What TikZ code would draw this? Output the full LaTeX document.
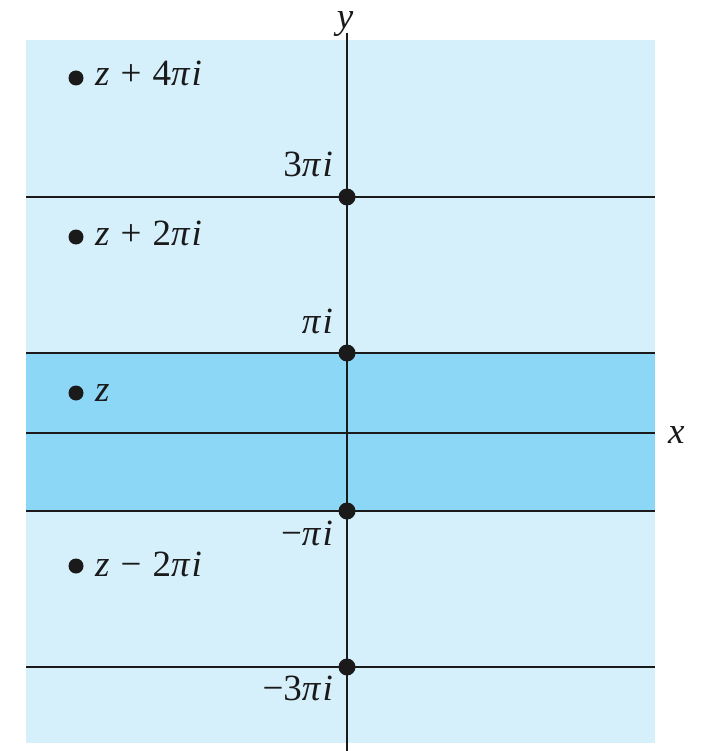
\documentclass[tikz,border=0pt]{standalone}
\usepackage{fontspec}
\newfontfamily\tms{Liberation Serif}
\newcommand\mi[1]{{\itshape #1}}
\newcommand\pii{{\itshape π\kern2pt i}}
\newcommand\opsp{\hspace{0.3em}}
\definecolor{lightband}{HTML}{D5EFFB}
\definecolor{darkband}{HTML}{8CD6F6}
\definecolor{ink}{HTML}{1A1A1A}
\begin{document}
\begin{tikzpicture}[x=1pt,y=-1pt,
  axisline/.style={draw=ink,line width=1.9pt},
  bigdot/.style={circle,fill=ink,inner sep=0pt,minimum size=17pt},
  smalldot/.style={circle,fill=ink,inner sep=0pt,minimum size=15pt},
  lbl/.style={font=\tms\fontsize{37}{40}\selectfont,inner sep=0pt,text=ink}]
\useasboundingbox (0,0) rectangle (703,751);
% bands
\fill[lightband] (26,40) rectangle (655,743);
\fill[darkband] (26,353) rectangle (655,511);
% coordinates
\coordinate (L3) at (26,197); \coordinate (R3) at (655,197);
\coordinate (L1) at (26,353); \coordinate (R1) at (655,353);
\coordinate (L0) at (26,433); \coordinate (R0) at (655,433);
\coordinate (Lm1) at (26,511); \coordinate (Rm1) at (655,511);
\coordinate (Lm3) at (26,667); \coordinate (Rm3) at (655,667);
\coordinate (ytop) at (347,33); \coordinate (ybot) at (347,751);
% lines
\draw[axisline] (L3) -- (R3);
\draw[axisline] (L1) -- (R1);
\draw[axisline] (L0) -- (R0);
\draw[axisline] (Lm1) -- (Rm1);
\draw[axisline] (Lm3) -- (Rm3);
\draw[axisline] (ytop) -- (ybot);
% dots on axis
\node[bigdot] (d3) at (347,197) {};
\node[bigdot] (d1) at (347,353) {};
\node[bigdot] (dm1) at (347,511) {};
\node[bigdot] (dm3) at (347,667) {};
% axis labels
\node[lbl,anchor=base] (ylab) at (345,29) {\mi{y}};
\node[lbl,anchor=west] (xlab) at (668,435) {\mi{x}};
\node[lbl,anchor=base east] (t3) at (333,177) {3\pii};
\node[lbl,anchor=base east] (t1) at (333,333) {\pii};
\node[lbl,anchor=base east] (tm1) at (333,545) {−\pii};
\node[lbl,anchor=base east] (tm3) at (333,700) {−3\pii};
% points
\node[smalldot] (p4) at (76,78) {};
\node[smalldot] (p2) at (76,237) {};
\node[smalldot] (p0) at (76,393) {};
\node[smalldot] (pm2) at (76,566) {};
\node[lbl,anchor=base west] (q4) at (95,86) {\mi{z}\opsp+\opsp4\pii};
\node[lbl,anchor=base west] (q2) at (95,245) {\mi{z}\opsp+\opsp2\pii};
\node[lbl,anchor=base west] (q0) at (95,401) {\mi{z}};
\node[lbl,anchor=base west] (qm2) at (95,576) {\mi{z}\opsp−\opsp2\pii};
\end{tikzpicture}
\end{document}
